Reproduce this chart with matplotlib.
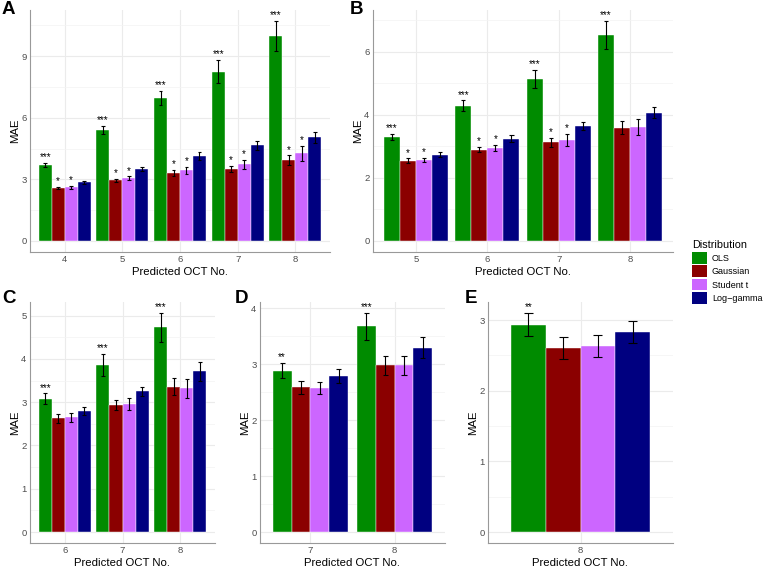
import numpy as np
import matplotlib.pyplot as plt
from matplotlib.patches import Patch
from matplotlib.ticker import MultipleLocator

plt.rcParams['font.family'] = ['Liberation Sans', 'DejaVu Sans']

dists = ['OLS', 'Gaussian', 'Student t', 'Log\u2212gamma']
colors = ['#008B00', '#8B0000', '#CC66FF', '#000080']

# panel A
a_groups = ['4', '5', '6', '7', '8']
a_mae = [[3.71, 5.42, 6.96, 8.25, 9.97],
         [2.58, 2.95, 3.31, 3.50, 3.94],
         [2.61, 3.05, 3.45, 3.73, 4.26],
         [2.85, 3.50, 4.13, 4.65, 5.04]]
a_err = [[0.10, 0.20, 0.33, 0.55, 0.74],
         [0.07, 0.07, 0.14, 0.16, 0.23],
         [0.08, 0.09, 0.17, 0.23, 0.36],
         [0.09, 0.10, 0.18, 0.24, 0.28]]
a_sig = [['***'] * 5, ['*'] * 5, ['*'] * 5, [''] * 5]

# panel B
b_groups = ['5', '6', '7', '8']
b_mae = [[3.29, 4.29, 5.15, 6.53],
         [2.55, 2.90, 3.13, 3.60],
         [2.57, 2.95, 3.21, 3.62],
         [2.74, 3.24, 3.64, 4.07]]
b_err = [[0.10, 0.17, 0.29, 0.45],
         [0.07, 0.09, 0.15, 0.22],
         [0.07, 0.11, 0.20, 0.26],
         [0.08, 0.11, 0.13, 0.17]]
b_sig = [['***'] * 4, ['*', '*', '*', ''], ['*', '*', '*', ''], [''] * 4]

# panel C
c_groups = ['6', '7', '8']
c_mae = [[3.08, 3.86, 4.73],
         [2.63, 2.94, 3.36],
         [2.65, 2.96, 3.32],
         [2.79, 3.25, 3.71]]
c_err = [[0.12, 0.25, 0.33],
         [0.10, 0.12, 0.20],
         [0.10, 0.13, 0.22],
         [0.09, 0.10, 0.22]]
c_sig = [['***'] * 3, [''] * 3, [''] * 3, [''] * 3]

# panel D
d_groups = ['7', '8']
d_mae = [[2.89, 3.68],
         [2.59, 2.98],
         [2.58, 2.98],
         [2.79, 3.30]]
d_err = [[0.14, 0.24],
         [0.12, 0.17],
         [0.11, 0.17],
         [0.13, 0.19]]
d_sig = [['**', '***'], ['', ''], ['', ''], ['', '']]

# panel E
e_groups = ['8']
e_mae = [[2.935], [2.61], [2.63], [2.83]]
e_err = [[0.165], [0.155], [0.16], [0.16]]
e_sig = [['**'], [''], [''], ['']]


def draw_panel(ax, groups, mae, err, sig, step):
    n = len(groups)
    x = np.arange(n)
    w = 0.9 / 4
    cw = 0.03
    top = 0
    for i in range(4):
        xs = x - 0.45 + w * (i + 0.5)
        m = np.array(mae[i])
        e = np.array(err[i])
        ax.bar(xs, m, width=w, color=colors[i], edgecolor='white', linewidth=0.3, zorder=2)
        ax.vlines(xs, m - e, m + e, color='black', lw=0.8, zorder=3)
        ax.hlines(m - e, xs - cw, xs + cw, color='black', lw=0.8, zorder=3)
        ax.hlines(m + e, xs - cw, xs + cw, color='black', lw=0.8, zorder=3)
        top = max(top, (m + e).max())
        for xx, h, s in zip(xs, m + e, sig[i]):
            if s:
                ax.annotate(s, (xx, h), xytext=(0, 0.5), textcoords='offset points',
                            ha='center', va='bottom', fontsize=7)
    pad = 0.05 * top
    ax.set_ylim(-pad, top + pad)
    ax.set_xlim(-0.6, n - 0.4)
    ax.set_xticks(x)
    ax.set_xticklabels(groups)
    ax.yaxis.set_major_locator(MultipleLocator(step))
    ax.yaxis.set_minor_locator(MultipleLocator(step / 2))
    ax.grid(which='major', color='#EBEBEB', lw=0.8, zorder=0)
    ax.grid(which='minor', axis='y', color='#F3F3F3', lw=0.5, zorder=0)
    ax.set_axisbelow(True)
    ax.tick_params(which='both', length=0, labelsize=6.8, labelcolor='#4D4D4D', pad=2.5)
    for sp in ['top', 'right']:
        ax.spines[sp].set_visible(False)
    for sp in ['left', 'bottom']:
        ax.spines[sp].set_color('#999999')
        ax.spines[sp].set_linewidth(0.8)
    ax.set_xlabel('Predicted OCT No.', fontsize=8.2, labelpad=1.5)
    ax.set_ylabel('MAE', fontsize=8.2, labelpad=1)


fig = plt.figure(figsize=(7.64, 5.69), dpi=100)
W, H = 764, 569


def add_ax(l, t, r, b):
    return fig.add_axes([l / W, 1 - b / H, (r - l) / W, (b - t) / H])


axA = add_ax(30, 10, 330, 252)
axB = add_ax(373, 10, 673, 252)
axC = add_ax(30, 302, 215, 543)
axD = add_ax(260, 302, 445, 543)
axE = add_ax(488, 302, 673, 543)

draw_panel(axA, a_groups, a_mae, a_err, a_sig, 3)
draw_panel(axB, b_groups, b_mae, b_err, b_sig, 2)
draw_panel(axC, c_groups, c_mae, c_err, c_sig, 1)
draw_panel(axD, d_groups, d_mae, d_err, d_sig, 1)
draw_panel(axE, e_groups, e_mae, e_err, e_sig, 1)

for lab, px, py in [('A', 2, 1), ('B', 350, 1), ('C', 2, 290), ('D', 235, 290), ('E', 465, 290)]:
    fig.text(px / W, 1 - py / H, lab, fontsize=13.5, fontweight='bold', ha='left', va='top')

handles = [Patch(facecolor=c, edgecolor='none') for c in colors]
fig.legend(handles, dists, title='Distribution', loc='upper left',
           bbox_to_anchor=(684 / W, 1 - 232 / H), frameon=False, fontsize=6.5,
           title_fontsize=7.8, handlelength=1.6, handleheight=1.6,
           handletextpad=0.6, labelspacing=0.2, alignment='left')

fig.savefig('out.png', dpi=100)
